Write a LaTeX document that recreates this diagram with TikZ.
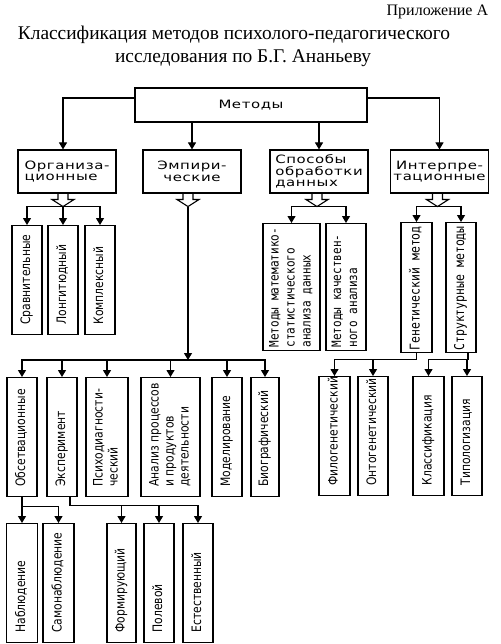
\documentclass[tikz,border=0pt]{standalone}
\usepackage{fontspec}
\setmainfont{Liberation Serif}
\newfontfamily\boxfont[FakeStretch=1.3,LetterSpace=5]{DejaVu Sans}
\newfontfamily\monofont[FakeStretch=0.85]{DejaVu Sans Mono}
\newfontfamily\narrowfont[FakeStretch=0.83]{DejaVu Sans}
\usepackage{graphicx}
\usetikzlibrary{arrows.meta,calc}

\newcommand{\vtext}[2]{\rotatebox{90}{\makebox[#1][l]{\begin{tabular}{@{}l@{}}#2\end{tabular}}}}
\newcommand{\splitarrow}[2]{%
  \draw[shift={($(#1.south)+(#2,0)$)}] (-5,0) -- (-5,6) -- (-11,6) -- (0,13) coordinate (#1-tip)
        -- (11,6) -- (5,6) -- (5,0);}

\begin{document}
\begin{tikzpicture}[x=1pt,y=-1pt,>={Triangle[length=7pt,width=8pt]},
                    line width=1.1pt]
  \tikzstyle{cat} = [draw, rectangle, minimum width=98pt, minimum height=43pt,
    inner sep=2pt, font=\boxfont\fontsize{11.5}{11.5}\selectfont]
  \tikzstyle{leaf} = [draw, rectangle, anchor=north, inner sep=0pt,
    font=\narrowfont\fontsize{13}{15}\selectfont]
  \tikzstyle{mleaf} = [leaf, font=\monofont\fontsize{13}{16}\selectfont]

  \useasboundingbox (0,0) rectangle (500,644);

  \node[anchor=base east, font=\fontsize{16}{18}\selectfont] (app) at (492,16) {Приложение А};
  \node[anchor=base, font=\fontsize{19.4}{21}\selectfont] (title1) at (234,40)
    {Классификация методов психолого-педагогического};
  \node[anchor=base, font=\fontsize{19.4}{21}\selectfont] (title2) at (243,63)
    {исследования по Б.Г. Ананьеву};

  \node[draw, minimum width=232pt, minimum height=34pt,
        font=\boxfont\fontsize{11.5}{14}\selectfont] (met) at (251,105) {Методы};

  \node[cat, align=left]   (org)  at (67,171.5)  {Организа-\\ционные};
  \node[cat, align=center] (emp)  at (192,171.5) {Эмпири-\\ческие};
  \node[cat, align=left]   (spos) at (319,171.5) {Способы\\обработки\\данных};
  \node[cat, align=center] (int)  at (439.5,171.5) {Интерпре-\\тационные};

  % организационные
  \node[leaf, minimum width=30pt, minimum height=109pt] (srav)  at (27,225)  {\vtext{89pt}{Сравнительные}};
  \node[leaf, minimum width=30pt, minimum height=109pt] (long)  at (63,225)  {\vtext{89pt}{Лонгитюдный}};
  \node[leaf, minimum width=30pt, minimum height=109pt] (kompl) at (100,225) {\vtext{89pt}{Комплексный}};

  % эмпирические
  \node[leaf, minimum width=30pt, minimum height=119pt] (obs)   at (22,377)    {\vtext{99pt}{Обсетвационные}};
  \node[leaf, minimum width=30pt, minimum height=119pt] (exp)   at (62,377)    {\vtext{99pt}{Эксперимент}};
  \node[leaf, minimum width=42pt, minimum height=119pt] (psy)   at (107,377)   {\vtext{99pt}{Психодиагности-\\ческий}};
  \node[leaf, minimum width=59pt, minimum height=119pt] (anal)  at (170.5,377) {\vtext{99pt}{Анализ процессов\\и продуктов\\деятельности}};
  \node[leaf, minimum width=30pt, minimum height=119pt] (model) at (227,377)   {\vtext{99pt}{Моделирование}};
  \node[leaf, minimum width=28pt, minimum height=119pt] (bio)   at (265,377)   {\vtext{99pt}{Биографический}};

  \node[leaf, minimum width=31pt, minimum height=119pt] (nabl) at (22,523)    {\vtext{99pt}{Наблюдение}};
  \node[leaf, minimum width=31pt, minimum height=119pt] (samo) at (58.5,523)  {\vtext{99pt}{Самонаблюдение}};
  \node[leaf, minimum width=29pt, minimum height=119pt] (form) at (121.5,523) {\vtext{99pt}{Формирующий}};
  \node[leaf, minimum width=30pt, minimum height=119pt] (pole) at (159,523)   {\vtext{99pt}{Полевой}};
  \node[leaf, minimum width=30pt, minimum height=119pt] (est)  at (198,523)   {\vtext{99pt}{Естественный}};

  % способы обработки
  \node[mleaf, minimum width=57pt, minimum height=127pt] (mat)  at (291.5,223) {\vtext{121pt}{Методы математико-\\статистического\\анализа данных}};
  \node[mleaf, minimum width=40pt, minimum height=127pt] (kach) at (346,223)   {\vtext{121pt}{Методы качествен-\\ного анализа}};

  % интерпретационные
  \node[mleaf, minimum width=31pt, minimum height=130pt, font=\monofont\fontsize{13.5}{16}\selectfont] (gen) at (416.5,222) {\vtext{126pt}{Генетический метод}};
  \node[mleaf, minimum width=30pt, minimum height=130pt, font=\monofont\fontsize{13.5}{16}\selectfont] (str) at (461,222)   {\vtext{126pt}{Структурные методы}};

  \node[leaf, minimum width=31pt, minimum height=119pt] (filo)  at (334.5,376) {\vtext{99pt}{Филогенетический}};
  \node[leaf, minimum width=30pt, minimum height=119pt] (onto)  at (373,376)   {\vtext{99pt}{Онтогенетический}};
  \node[leaf, minimum width=31pt, minimum height=119pt] (klass) at (428.5,376) {\vtext{99pt}{Классификация}};
  \node[leaf, minimum width=30pt, minimum height=119pt] (tipo)  at (467,376)   {\vtext{99pt}{Типологизация}};

  % от методов
  \draw[->] ([yshift=7pt]met.west) -| ([xshift=-4pt]org.north);
  \draw[->] ([yshift=7pt]met.east) -| (int.north);
  \draw[->] (met.south -| emp.north) -- (emp.north);
  \draw[->] (met.south -| spos.north) -- (spos.north);

  \splitarrow{org}{-4}
  \draw[->] (org-tip) -| (srav.north);
  \draw[->] (org-tip) -- (long.north);
  \draw[->] (org-tip) -| (kompl.north);

  \splitarrow{emp}{-4}
  \coordinate (empjoin) at (188,360);
  \draw[->] (emp-tip) -- (empjoin);
  \draw[->] (empjoin) -| (obs.north);
  \draw[->] (empjoin) -| (exp.north);
  \draw[->] (empjoin) -| (psy.north);
  \draw[->] (empjoin) -| (anal.north);
  \draw[->] (empjoin) -| (model.north);
  \draw[->] (empjoin) -| (bio.north);

  \splitarrow{spos}{-2}
  \draw[->] (spos-tip) -| (mat.north);
  \draw[->] (spos-tip) -| (kach.north);

  \splitarrow{int}{-2}
  \draw[->] (int-tip) -| (gen.north);
  \draw[->] (int-tip) -| (str.north);

  \draw[->] (obs.south) -- ++(0,9) coordinate (obsbar) -| (samo.north);
  \draw[->] (obsbar) -- (nabl.north);

  \draw[->] ([xshift=8pt]exp.south) -- ++(0,8) coordinate (expbar) -| (est.north);
  \draw[->] (expbar) -| (form.north);
  \draw[->] (expbar) -| (pole.north);

  \draw[->] (gen.south) -- ++(0,6) coordinate (genbar) -| (filo.north);
  \draw[->] (genbar) -| (onto.north);
  \draw[->] ([xshift=7pt]str.south) -- ++(0,6) coordinate (strbar) -| (klass.north);
  \draw[->] (strbar) -| (tipo.north);
\end{tikzpicture}
\end{document}
